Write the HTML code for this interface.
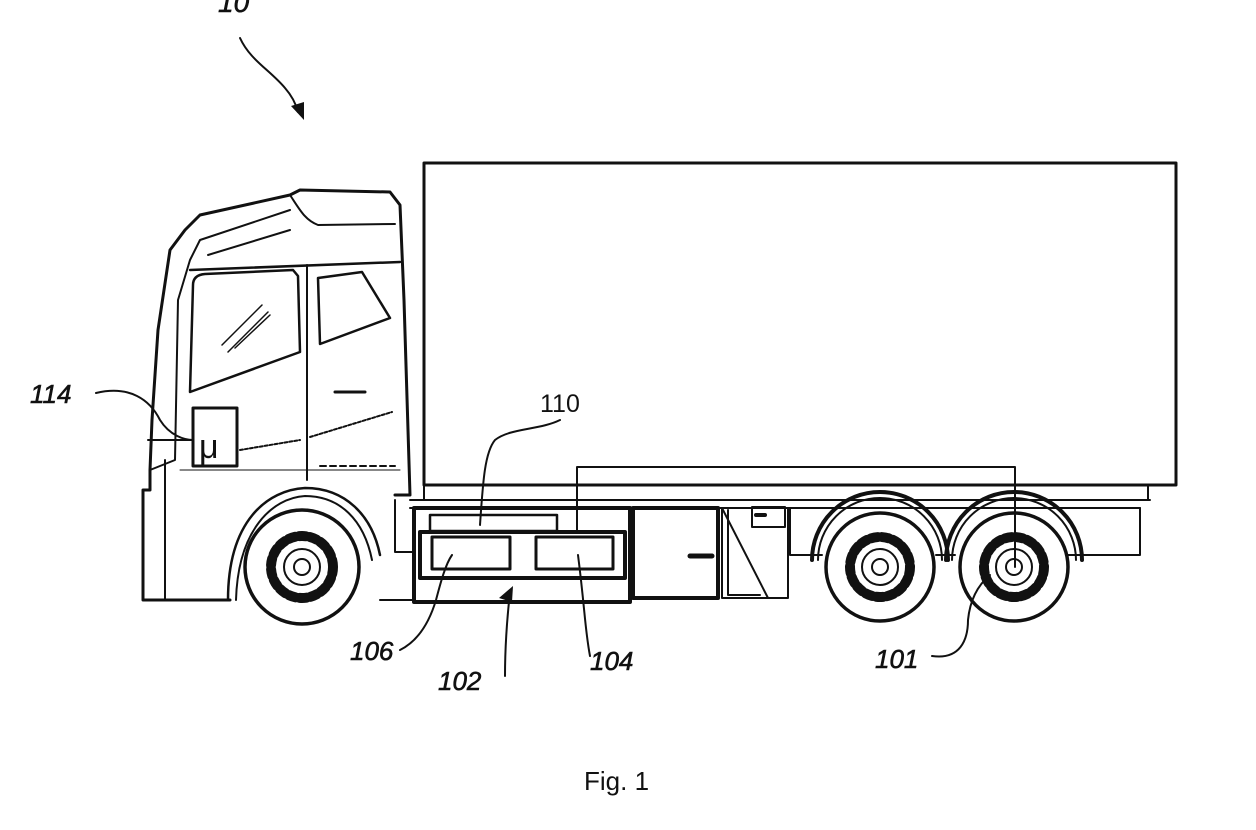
<!DOCTYPE html>
<html><head><meta charset="utf-8"><style>
html,body{margin:0;padding:0;background:#fff;}
svg{display:block;}
text{font-family:"Liberation Sans",sans-serif;fill:#111;}
.it{font-style:italic;stroke:#111;stroke-width:0.6;}
</style></head><body>
<svg width="1256" height="830" viewBox="0 0 1256 830" xmlns="http://www.w3.org/2000/svg">
<g fill="none" stroke="#111" stroke-width="2" stroke-linejoin="round" stroke-linecap="round">
<rect x="424" y="163" width="752" height="322" stroke-width="3"/>
<path d="M424 485 V500 H1148 V485"/>
<path d="M410 500 H1150 M410 508 H1140"/>
<path d="M790 508 V555 H822 M936 555 H955 M1068 555 H1140 V508"/>
<path d="M812 560 A68 68 0 0 1 948 560" stroke-width="4"/>
<path d="M818 560 A62 62 0 0 1 942 560"/>
<path d="M946 560 A68 68 0 0 1 1082 560" stroke-width="4"/>
<path d="M952 560 A62 62 0 0 1 1076 560"/>
<circle cx="880" cy="567" r="54" stroke-width="3.5"/>
<circle cx="880" cy="567" r="30" stroke-width="10" stroke-dasharray="7 4"/>
<circle cx="880" cy="567" r="18" stroke-width="2"/>
<circle cx="880" cy="567" r="8" stroke-width="2"/>
<circle cx="1014" cy="567" r="54" stroke-width="3.5"/>
<circle cx="1014" cy="567" r="30" stroke-width="10" stroke-dasharray="7 4"/>
<circle cx="1014" cy="567" r="18" stroke-width="2"/>
<circle cx="1014" cy="567" r="8" stroke-width="2"/>
<circle cx="302" cy="567" r="57" stroke-width="3.5"/>
<circle cx="302" cy="567" r="31" stroke-width="10" stroke-dasharray="7 4"/>
<circle cx="302" cy="567" r="18"/>
<circle cx="302" cy="567" r="8"/>
<path d="M228 600 C228 520 268 490 305 488 C345 488 372 515 380 555" stroke-width="2.5"/>
<path d="M236 600 C238 530 272 498 305 496 C340 496 364 520 372 560"/>
<path d="M143 600 H230 M143 600 V490 H150 V470 L152 420 L158 330 L170 250 L185 230 L200 215 L290 195 L300 190 L390 192 L400 205 L404 300 L410 495 H395" stroke-width="3"/>
<path d="M380 600 H414"/>
<path d="M150 470 L175 460 L178 300 L190 260 L200 240 L290 210"/>
<path d="M165 460 V600 H228"/>
<path d="M290 195 C300 210 305 220 318 225 L395 224"/>
<path d="M208 255 L290 230"/>
<path d="M190 270 L400 262" stroke-width="2.5"/>
<path d="M307 265 V480"/>
<path d="M180 470 H400" stroke-width="1"/>
<path d="M193 285 Q193 275 205 274 L293 270 L298 276 L300 352 L190 392 Z" stroke-width="2.5"/>
<path d="M318 278 L362 272 L390 318 L320 344 Z" stroke-width="2.5"/>
<path d="M222 345 L262 305 M228 352 L268 312 M235 348 L270 315" stroke-width="1.5"/>
<path d="M335 392 H365" stroke-width="3"/>
<path d="M310 437 L392 412" stroke-dasharray="3 2"/>
<path d="M240 450 L300 440" stroke-dasharray="3 2"/>
<path d="M320 466 H395" stroke-dasharray="6 4"/>
<rect x="193" y="408" width="44" height="58" stroke-width="3"/>
<path d="M148 440 L193 440"/>
<path d="M395 500 V552 H414"/>
<rect x="414" y="508" width="216" height="94" stroke-width="4"/>
<rect x="420" y="532" width="205" height="46" stroke-width="4"/>
<rect x="432" y="537" width="78" height="32" stroke-width="3"/>
<rect x="536" y="537" width="77" height="32" stroke-width="3"/>
<rect x="430" y="515" width="127" height="16" stroke-width="2.5"/>
<path d="M577 467 V531 M577 467 H1015 V567" stroke-width="2"/>
<rect x="633" y="508" width="85" height="90" stroke-width="4"/>
<path d="M690 556 H712" stroke-width="5"/>
<path d="M722 508 V598 H788 V508 M722 508 L768 598 M728 510 V595 H760" stroke-width="2"/>
<rect x="752" y="507" width="33" height="20" stroke-width="2"/>
<path d="M756 515 H765" stroke-width="4"/>
<path d="M240 38 C250 60 270 70 285 88 C292 96 296 104 298 112" stroke-width="2"/>
<path d="M96 393 C130 385 150 400 160 420 C170 436 185 440 193 440"/>
<path d="M560 420 C540 430 510 428 495 440 C485 452 483 480 480 525"/>
<path d="M400 650 C420 640 430 620 436 600 C440 585 445 565 452 555"/>
<path d="M505 676 C505 640 508 610 510 592"/>
<path d="M590 656 C585 630 585 610 578 555"/>
<path d="M932 656 C960 660 968 640 968 620 C970 600 978 585 990 575"/>
</g>
<polygon points="291,106 304,120 304,102" fill="#111"/>
<polygon points="499,598 513,586 512,602" fill="#111"/>
<text x="199" y="458" font-size="34" font-family="Liberation Serif, serif">μ</text>
<text x="218" y="12" font-size="28" class="it">10</text>
<text x="30" y="403" font-size="26" class="it">114</text>
<text x="540" y="412" font-size="25">110</text>
<text x="350" y="660" font-size="26" class="it">106</text>
<text x="438" y="690" font-size="26" class="it">102</text>
<text x="590" y="670" font-size="26" class="it">104</text>
<text x="875" y="668" font-size="26" class="it">101</text>
<text x="584" y="790" font-size="26">Fig. 1</text>
</svg>
</body></html>
